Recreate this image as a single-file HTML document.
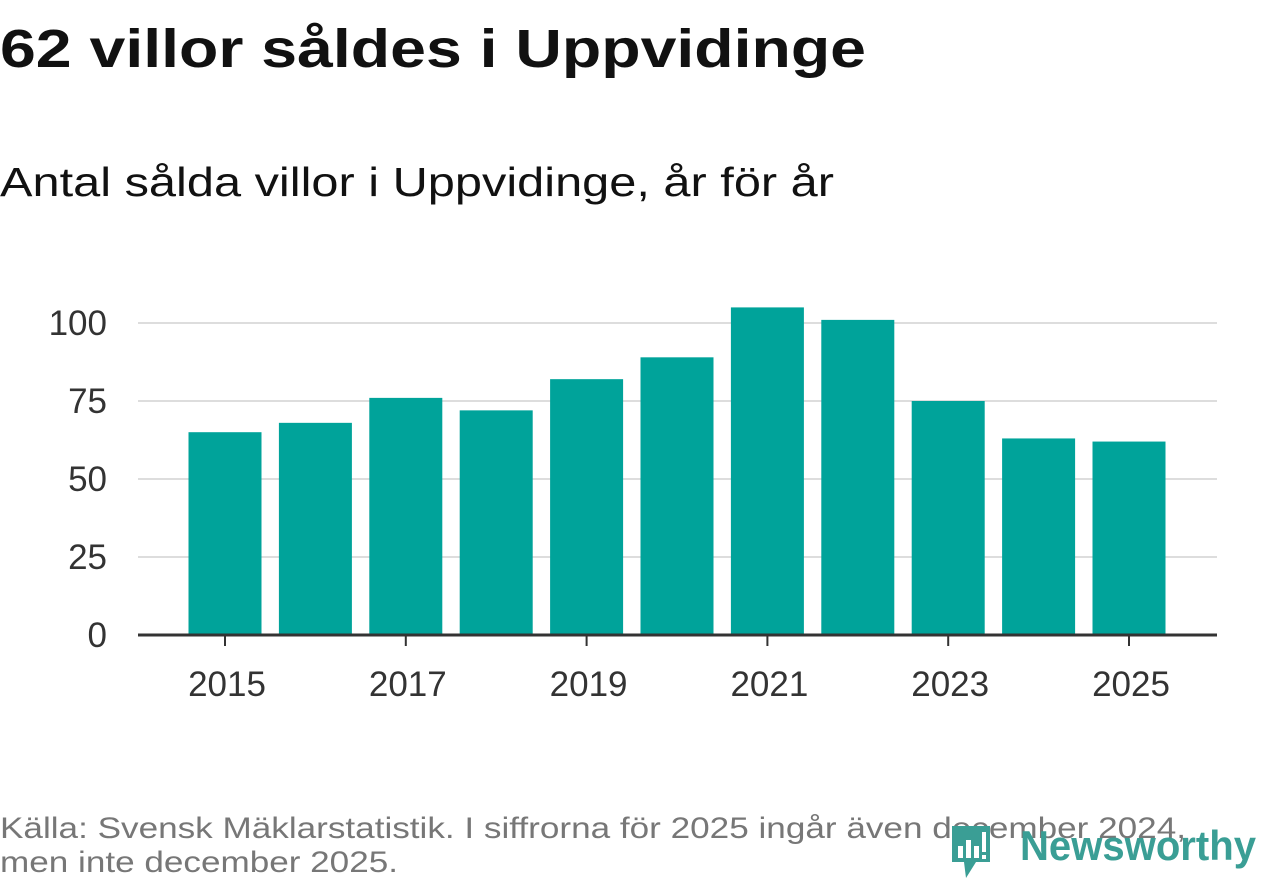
<!DOCTYPE html>
<html><head><meta charset="utf-8"><style>
body{margin:0;background:#fff;}
svg{display:block;font-family:"Liberation Sans",sans-serif;}
</style></head><body>
<svg id="c" width="1262" height="879">
<text x="0" y="67" font-size="54" font-weight="bold" fill="#111" textLength="866" lengthAdjust="spacingAndGlyphs">62 villor såldes i Uppvidinge</text>
<text x="0" y="196" font-size="41" fill="#111" textLength="834" lengthAdjust="spacingAndGlyphs">Antal sålda villor i Uppvidinge, år för år</text>
<g id="grid"></g><g id="bars"></g><g id="axes"></g>
<text x="0" y="838" font-size="30" fill="#777" textLength="1186" lengthAdjust="spacingAndGlyphs">Källa: Svensk Mäklarstatistik. I siffrorna för 2025 ingår även december 2024,</text>
<text x="0" y="872" font-size="30" fill="#777" textLength="398" lengthAdjust="spacingAndGlyphs">men inte december 2025.</text>
<g>
<path d="M952 826 h38 v36 h-14 l-10 16 l-2 -16 h-12 z" fill="#3a9e95"/>
<rect x="958" y="846" width="5" height="12" fill="#fff"/><rect x="966" y="840" width="5" height="18" fill="#fff"/><rect x="974" y="846" width="5" height="12" fill="#fff"/><rect x="982" y="832" width="4" height="20" fill="#fff"/><rect x="982" y="855" width="4" height="4" fill="#fff"/>
<text x="1020" y="860" font-size="42" font-weight="bold" fill="#3a9e95" textLength="236" lengthAdjust="spacingAndGlyphs">Newsworthy</text>
</g>
</svg>
<script>
const years=[2015,2016,2017,2018,2019,2020,2021,2022,2023,2024,2025];
const values=[65,68,76,72,82,89,105,101,75,63,62];
const yTicks=[0,25,50,75,100];
const xTickLabels=[2015,2017,2019,2021,2023,2025];
const NS="http://www.w3.org/2000/svg";
const y=v=>635-v*3.12;
const x=yr=>225+(yr-2015)*90.4;
function mk(t,a,p){const e=document.createElementNS(NS,t);for(const k in a)e.setAttribute(k,a[k]);p.appendChild(e);return e;}
const grid=document.getElementById('grid'),bars=document.getElementById('bars'),axes=document.getElementById('axes');
yTicks.forEach(v=>{
 if(v>0){const l=mk('line',{x1:138,x2:1217,y1:y(v),y2:y(v),stroke:'#ddd','stroke-width':2},grid);
 
 }
 const t=mk('text',{x:107,y:y(v)+12,'font-size':35,fill:'#333','text-anchor':'end'},axes);t.textContent=v;
 
 
});
years.forEach((yr,i)=>{
 const r=mk('rect',{x:x(yr)-36.5,y:y(values[i]),width:73,height:y(0)-y(values[i]),fill:'#00a39a'},bars);
 
 
});
const ax=mk('line',{x1:138,x2:1217,y1:635,y2:635,stroke:'#333','stroke-width':3},axes);


xTickLabels.forEach(yr=>{
 const tk=mk('line',{x1:x(yr),x2:x(yr),y1:635,y2:646,stroke:'#333','stroke-width':2},axes);
 
 
 const t=mk('text',{x:x(yr)+2,y:696,'font-size':35,fill:'#333','text-anchor':'middle'},axes);t.textContent=yr;
 
 
});
</script>
</body></html>
